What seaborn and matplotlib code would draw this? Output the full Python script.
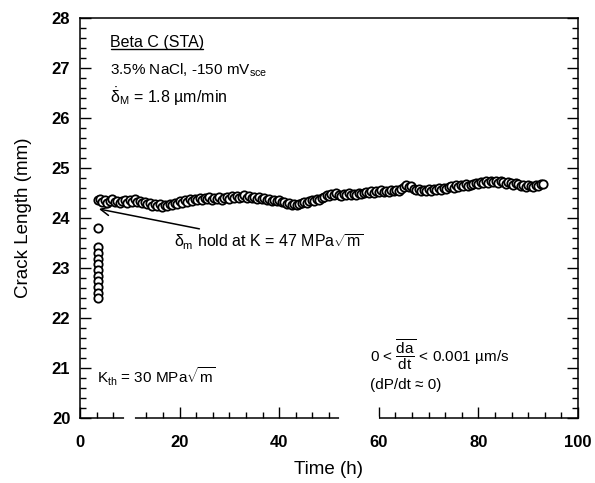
import matplotlib
matplotlib.use("Agg")
import matplotlib.pyplot as plt
from matplotlib.ticker import MultipleLocator, FixedLocator
from matplotlib.lines import Line2D
from matplotlib.transforms import IdentityTransform
import seaborn as sns
import pandas as pd

# ---- data ----
# initial loading column (vertical stack of points)
ramp_time = [3.7, 3.7, 3.7, 3.7, 3.7, 3.7, 3.7, 3.7, 3.7, 3.7, 3.7]
ramp_crack = [23.81, 23.42, 23.31, 23.19, 23.08, 22.96, 22.85, 22.74, 22.62, 22.51, 22.40]

# hold trace
hold_time = [
    3.6,
    4.0, 4.5, 5.0, 5.5, 6.0, 6.5, 7.0, 7.5, 8.0, 8.5,
    9.0, 9.5, 10.0, 10.5, 11.0, 11.5, 12.0, 12.5, 13.0, 13.5,
    14.0, 14.5, 15.0, 15.5, 16.0, 16.5, 17.0, 17.5, 18.0, 18.5,
    19.0, 19.5, 20.0, 20.5, 21.0, 21.5, 22.0, 22.5, 23.0, 23.5,
    24.0, 24.5, 25.0, 25.5, 26.0, 26.5, 27.0, 27.5, 28.0, 28.5,
    29.0, 29.5, 30.0, 30.5, 31.0, 31.5, 32.0, 32.5, 33.0, 33.5,
    34.0, 34.5, 35.0, 35.5, 36.0, 36.5, 37.0, 37.5, 38.0, 38.5,
    39.0, 39.5, 40.0, 40.5, 41.0, 41.5, 42.0, 42.5, 43.0, 43.5,
    44.0, 44.5, 45.0, 45.5, 46.0, 46.5, 47.0, 47.5, 48.0, 48.5,
    49.0, 49.5, 50.0, 50.5, 51.0, 51.5, 52.0, 52.5, 53.0, 53.5,
    54.0, 54.5, 55.0, 55.5, 56.0, 56.5, 57.0, 57.5, 58.0, 58.5,
    59.0, 59.5, 60.0, 60.5, 61.0, 61.5, 62.0, 62.5, 63.0, 63.5,
    64.0, 64.5, 65.0, 65.5, 66.0, 66.5, 67.0, 67.5, 68.0, 68.5,
    69.0, 69.5, 70.0, 70.5, 71.0, 71.5, 72.0, 72.5, 73.0, 73.5,
    74.0, 74.5, 75.0, 75.5, 76.0, 76.5, 77.0, 77.5, 78.0, 78.5,
    79.0, 79.5, 80.0, 80.5, 81.0, 81.5, 82.0, 82.5, 83.0, 83.5,
    84.0, 84.5, 85.0, 85.5, 86.0, 86.5, 87.0, 87.5, 88.0, 88.5,
    89.0, 89.5, 90.0, 90.5, 91.0, 91.5, 92.0, 92.5, 93.0,
]
hold_crack = [
    24.37,
    24.39, 24.33, 24.36, 24.31, 24.35, 24.38, 24.32, 24.35, 24.30, 24.34,
    24.36, 24.31, 24.37, 24.33, 24.39, 24.32, 24.35, 24.30, 24.32, 24.28,
    24.30, 24.25, 24.29, 24.24, 24.28, 24.23, 24.27, 24.25, 24.29, 24.26,
    24.31, 24.28, 24.34, 24.31, 24.36, 24.33, 24.38, 24.35, 24.39, 24.36,
    24.41, 24.36, 24.40, 24.38, 24.43, 24.37, 24.41, 24.39, 24.42, 24.37,
    24.40, 24.43, 24.39, 24.44, 24.41, 24.45, 24.40, 24.43, 24.46, 24.41,
    24.44, 24.40, 24.43, 24.39, 24.42, 24.38, 24.41, 24.37, 24.39, 24.35,
    24.37, 24.34, 24.36, 24.32, 24.33, 24.29, 24.31, 24.27, 24.29, 24.26,
    24.28, 24.31, 24.33, 24.30, 24.35, 24.37, 24.34, 24.39, 24.37, 24.41,
    24.43, 24.46, 24.44, 24.49, 24.46, 24.50, 24.47, 24.45, 24.49, 24.47,
    24.50, 24.46, 24.49, 24.47, 24.51, 24.48, 24.50, 24.53, 24.50, 24.54,
    24.51, 24.55, 24.52, 24.56, 24.53, 24.55, 24.52, 24.57, 24.54, 24.56,
    24.55, 24.58, 24.62, 24.67, 24.63, 24.65, 24.59, 24.56, 24.58, 24.54,
    24.57, 24.54, 24.58, 24.55, 24.59, 24.56, 24.60, 24.57, 24.61, 24.59,
    24.62, 24.65, 24.61, 24.66, 24.63, 24.67, 24.64, 24.68, 24.65, 24.67,
    24.69, 24.71, 24.68, 24.73, 24.70, 24.74, 24.71, 24.75, 24.72, 24.74,
    24.71, 24.75, 24.72, 24.69, 24.73, 24.70, 24.67, 24.71, 24.68, 24.65,
    24.67, 24.63, 24.66, 24.64, 24.62, 24.66, 24.65, 24.68, 24.69,
]

x_ticks = [0, 20, 40, 60, 80, 100]
y_ticks = [20, 21, 22, 23, 24, 25, 26, 27, 28]

df = pd.DataFrame({
    "time": ramp_time + hold_time,
    "crack": ramp_crack + hold_crack,
})

# ---- style ----
sns.set_theme(style="ticks")
plt.rcParams["font.family"] = ["Liberation Sans", "DejaVu Sans"]
plt.rcParams["mathtext.fontset"] = "custom"
plt.rcParams["mathtext.rm"] = "Liberation Sans"
plt.rcParams["mathtext.it"] = "Liberation Sans"
plt.rcParams["mathtext.bf"] = "Liberation Sans:bold"
for key in ["text.color", "axes.labelcolor", "xtick.color", "ytick.color", "axes.edgecolor"]:
    plt.rcParams[key] = "black"

fig = plt.figure(figsize=(5.95, 4.83), dpi=100)
ax = fig.add_axes([80 / 595, 1 - 418 / 483, (578 - 80) / 595, (418 - 18) / 483])

sns.scatterplot(data=df, x="time", y="crack", ax=ax, marker="o",
                facecolor="white", edgecolor="black", s=36, linewidth=1.3,
                legend=False, zorder=3)

ax.set_xlim(0, 100)
ax.set_ylim(20, 28)
ax.xaxis.set_major_locator(FixedLocator(x_ticks))
ax.yaxis.set_major_locator(FixedLocator(y_ticks))
ax.yaxis.set_minor_locator(MultipleLocator(0.2))
minor_x = [3.33, 6.67, 13.33, 16.67, 23.33, 26.67, 30, 33.33, 36.67,
           43.33, 46.67, 50, 63.33, 66.67, 70, 73.33, 76.67,
           83.33, 86.67, 90, 93.33, 96.67]
ax.xaxis.set_minor_locator(FixedLocator(minor_x))

ax.tick_params(which="both", direction="in", top=False, right=True,
               labelright=False, color="black", width=1.0)
ax.tick_params(which="major", length=8, labelsize=12)
ax.tick_params(axis="y", which="major", pad=7)
ax.tick_params(axis="x", which="major", pad=12)
ax.tick_params(which="minor", length=4)
for lab in ax.get_xticklabels() + ax.get_yticklabels():
    lab.set_fontweight("bold")
for sp in ax.spines.values():
    sp.set_visible(True)
    sp.set_color("black")
    sp.set_linewidth(1.1)

ax.set_xlabel("Time (h)", fontsize=13.5, labelpad=8)
ax.set_ylabel("Crack Length (mm)", fontsize=13.5, labelpad=14)

# gaps in the scanned bottom axis
ax.plot([52.4, 59.7], [20, 20], color="white", lw=3, clip_on=False, zorder=5)
ax.plot([9.2, 10.7], [20, 20], color="white", lw=3, clip_on=False, zorder=5)

# ---- annotations ----
title = ax.text(6.0, 27.52, "Beta C (STA)", fontsize=11.5, ha="left", va="center")
ax.text(6.0, 26.96, r"3.5% NaCl, -150 mV$_{\mathrm{sce}}$", fontsize=11,
        ha="left", va="center")
ax.text(6.0, 26.42, r"$\dot{\delta}_{\mathrm{M}}$ = 1.8 µm/min", fontsize=11.5,
        ha="left", va="center")

ax.annotate(r"$\delta_{\mathrm{m}}$ hold at K = 47 MPa$\sqrt{\mathrm{m}}$",
            xy=(3.8, 24.18), xytext=(18.8, 23.51), fontsize=11.5,
            ha="left", va="center",
            arrowprops=dict(arrowstyle="->", color="black", lw=1.1,
                            mutation_scale=16, shrinkA=2, shrinkB=0))

ax.text(3.4, 20.82, r"K$_{\mathrm{th}}$ = 30 MPa$\sqrt{\mathrm{m}}$", fontsize=11,
        ha="left", va="center")
ax.text(58.2, 21.26,
        r"0 < $\overline{\dfrac{\mathrm{da}}{\mathrm{dt}}}$ < 0.001 µm/s",
        fontsize=11, ha="left", va="center")
ax.text(58.2, 20.66, "(dP/dt ≈ 0)", fontsize=11, ha="left", va="center")

# underline for the title
fig.canvas.draw()
bb = title.get_window_extent()
fig.add_artist(Line2D([bb.x0 + 1, bb.x1 - 1], [bb.y0 + 1, bb.y0 + 1],
                      transform=IdentityTransform(), color="black", lw=1.0))

fig.savefig("out.png", dpi=100)
